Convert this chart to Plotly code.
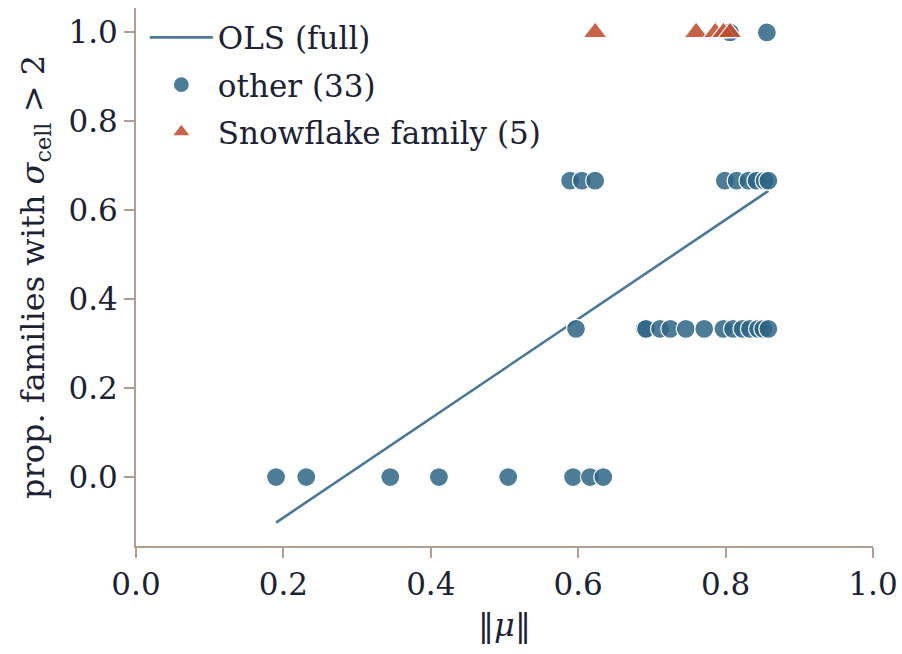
import numpy as np
import plotly.graph_objects as go

# ---- data ----
other_x = [0.190, 0.231, 0.345, 0.411, 0.505, 0.593, 0.616, 0.634,
           0.597, 0.690, 0.692, 0.711, 0.725, 0.746, 0.771, 0.797, 0.810, 0.823, 0.833, 0.844, 0.851, 0.858,
           0.589, 0.605, 0.623, 0.799, 0.815, 0.831, 0.842, 0.853, 0.858,
           0.806, 0.856]
other_y = [0.0] * 8 + [1/3] * 14 + [2/3] * 9 + [1.0] * 2
snow_x = [0.623, 0.760, 0.786, 0.797, 0.806]
snow_y = [1.0, 1.0, 1.0, 1.0, 1.0]

x_ticks = [0.0, 0.2, 0.4, 0.6, 0.8, 1.0]
y_ticks = [0.0, 0.2, 0.4, 0.6, 0.8, 1.0]

BLUE = "#4a7896"
ORANGE = "#c9644a"
TEXT = "#1c2233"
SPINE = "#ad9f92"
FONT = "DejaVu Serif"

# OLS fit on all points
all_x = np.array(other_x + snow_x)
all_y = np.array(other_y + snow_y)
slope, intercept = np.polyfit(all_x, all_y, 1)
lx = np.array([all_x.min(), all_x.max()])
ly = intercept + slope * lx

fig = go.Figure()
fig.add_trace(go.Scatter(x=lx, y=ly, mode="lines", name="OLS (full)", legendgroup="a",
                         line=dict(color=BLUE, width=2.6)))
fig.add_trace(go.Scatter(x=other_x, y=other_y, mode="markers", name="other (33)", legendgroup="b",
                         marker=dict(symbol="circle", size=19, color="rgba(46,101,133,0.85)",
                                     line=dict(color="white", width=1.2))))
fig.add_trace(go.Scatter(x=snow_x, y=snow_y, mode="markers", name="Snowflake family (5)", legendgroup="c",
                         marker=dict(symbol="triangle-up", size=21, color="rgba(192,76,46,0.87)",
                                     line=dict(color="white", width=1.2))))

axis_common = dict(showgrid=False, zeroline=False, showline=True, linecolor=SPINE, linewidth=2,
                   ticks="outside", ticklen=10, tickwidth=2, tickcolor=SPINE, automargin=False,
                   tickfont=dict(family=FONT, size=31, color=TEXT))

fig.update_layout(
    width=902, height=654,
    margin=dict(l=136, r=29, t=8, b=108),
    paper_bgcolor="white", plot_bgcolor="white",
    font=dict(family=FONT, color=TEXT),
    showlegend=True,
    legend=dict(x=0.012, y=0.995, xanchor="left", yanchor="top",
                font=dict(family=FONT, size=31, color=TEXT),
                bgcolor="rgba(0,0,0,0)", itemwidth=63, tracegroupgap=4,
                itemsizing="trace"),
    xaxis=dict(range=[0, 1], tickvals=x_ticks, ticktext=[f"{v:.1f}" for v in x_ticks],
               title=dict(text="‖<i>μ</i>‖", font=dict(family=FONT, size=32, color=TEXT), standoff=12),
               **axis_common),
    yaxis=dict(range=[-0.155, 1.055], tickvals=y_ticks, ticktext=[f"{v:.1f}" for v in y_ticks],
               title=dict(text="prop. families with <i>σ</i><sub>cell</sub> > 2",
                          font=dict(family=FONT, size=32, color=TEXT), standoff=14),
               **axis_common),
)

fig.write_html("out.html")
